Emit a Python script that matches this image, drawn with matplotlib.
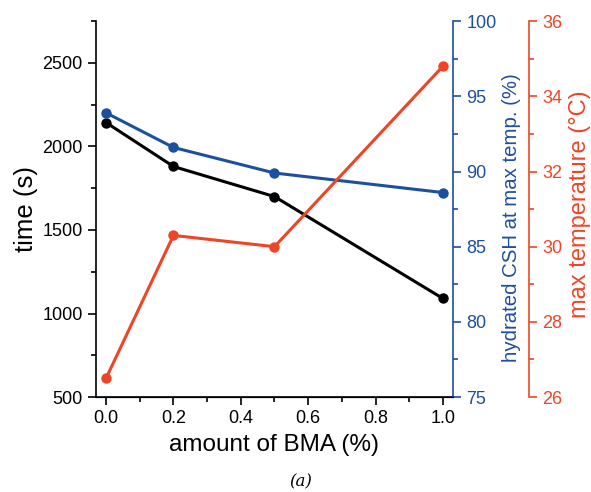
import matplotlib.pyplot as plt
from matplotlib.ticker import MultipleLocator

plt.rcParams['font.family'] = ['Liberation Sans', 'DejaVu Sans']

bma = [0.0, 0.2, 0.5, 1.0]
time_s = [2143, 1880, 1700, 1090]
hydrated_csh = [93.9, 91.6, 89.9, 88.6]
max_temp = [26.5, 30.3, 30.0, 34.8]

c_black = '#000000'
c_blue = '#1d4f9f'
c_red = '#ee4526'

fig = plt.figure(figsize=(5.91, 4.92), dpi=100)
ax = fig.add_axes([0.1624, 0.193, 0.6041, 0.764])
ax2 = ax.twinx()
ax3 = ax.twinx()

mk = dict(marker='o', markersize=7.5, linewidth=2.2, markeredgewidth=0)
ax.plot(bma, time_s, color=c_black, zorder=3, **mk)
ax2.plot(bma, hydrated_csh, color=c_blue, **mk)
ax3.plot(bma, max_temp, color=c_red, **mk)

ax.set_xlim(-0.03, 1.03)
ax.set_ylim(500, 2750)
ax2.set_ylim(75, 100)
ax3.set_ylim(26, 36)

ax.xaxis.set_major_locator(MultipleLocator(0.2))
ax.xaxis.set_minor_locator(MultipleLocator(0.1))
ax.yaxis.set_major_locator(MultipleLocator(500))
ax.yaxis.set_minor_locator(MultipleLocator(250))
ax2.yaxis.set_major_locator(MultipleLocator(5))
ax2.yaxis.set_minor_locator(MultipleLocator(2.5))
ax3.yaxis.set_major_locator(MultipleLocator(2))
ax3.yaxis.set_minor_locator(MultipleLocator(1))

for a in (ax, ax2, ax3):
    a.spines['top'].set_visible(False)
ax.spines['right'].set_visible(False)
ax2.spines['left'].set_visible(False)
ax3.spines['left'].set_visible(False)
ax3.spines['right'].set_position(('axes', 1.213))

ax.tick_params(which='major', length=6, width=1.2, labelsize=13)
ax.tick_params(which='minor', length=3.5, width=1.2)
ax2.spines['right'].set_color(c_blue)
ax2.spines['right'].set_linewidth(1.2)
ax2.tick_params(which='major', length=6, width=1.2, colors=c_blue, labelsize=13)
ax2.tick_params(which='minor', length=3.5, width=1.2, colors=c_blue)
ax3.spines['right'].set_color(c_red)
ax3.spines['right'].set_linewidth(1.2)
ax3.tick_params(which='major', length=6, width=1.2, colors=c_red, labelsize=13)
ax3.tick_params(which='minor', length=3.5, width=1.2, colors=c_red)
ax.spines['left'].set_linewidth(1.2)
ax.spines['bottom'].set_linewidth(1.2)

ax.set_xlabel('amount of BMA (%)', fontsize=17.5, labelpad=5)
ax.set_ylabel('time (s)', fontsize=18.5, labelpad=3)
ax2.set_ylabel('hydrated CSH at max temp. (%)', fontsize=14.7, color=c_blue)
ax3.set_ylabel('max temperature (°C)', fontsize=17, color=c_red)
# label positions in axes fraction of the main plot box
ax2.yaxis.set_label_coords(1.137, 0.476)
ax3.yaxis.set_label_coords(1.325, 0.513)

fig.text(0.508, 0.012, '(a)', family='DejaVu Serif', style='italic', fontsize=12, ha='center')

fig.savefig('out.png', dpi=100)
